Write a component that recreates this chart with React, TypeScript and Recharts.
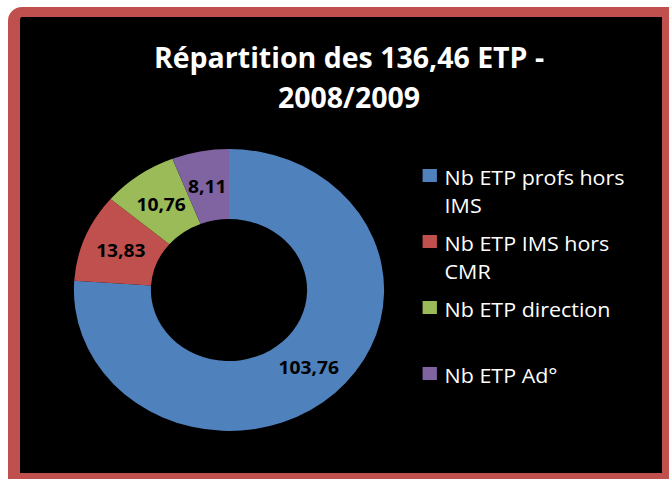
import { PieChart, Pie, Cell, Legend } from 'recharts';

const categories = ['Nb ETP profs hors IMS', 'Nb ETP IMS hors CMR', 'Nb ETP direction', 'Nb ETP Ad°'];
const values = [103.76, 13.83, 10.76, 8.11];
const colors = ['#4F81BD', '#C0504D', '#9BBB59', '#8064A2'];
const titleLines = ['Répartition des 136,46 ETP -', '2008/2009'];

const data = categories.map((name, i) => ({ name, value: values[i] }));

const fmt = (v: number) => v.toFixed(2).replace('.', ',');

const RAD = Math.PI / 180;

function renderLabel(props: any) {
  const { cx, cy, midAngle, innerRadius, outerRadius, value } = props;
  const r = (innerRadius + outerRadius) / 2;
  const x = cx + r * Math.cos(-midAngle * RAD);
  const y = cy + r * Math.sin(-midAngle * RAD);
  return (
    <text
      x={x}
      y={y}
      textAnchor="middle"
      dominantBaseline="central"
      fill="#000"
      fontSize={17.5}
      fontWeight={700}
      fontFamily="'Open Sans', sans-serif"
    >
      {fmt(value)}
    </text>
  );
}

function LegendContent({ payload }: any) {
  // keep the legend in data order
  const items = [...(payload || [])].sort(
    (a: any, b: any) => categories.indexOf(a.value) - categories.indexOf(b.value)
  );
  return (
    <div style={{ fontFamily: "'Open Sans', sans-serif" }}>
      {items.map((entry: any, i: number) => (
        <div key={`leg-${i}`} style={{ position: 'relative', height: 66 }}>
          <div
            style={{
              position: 'absolute',
              left: 0,
              top: 5,
              width: 13,
              height: 13,
              background: entry.color,
            }}
          />
          <div
            style={{
              position: 'absolute',
              left: 20,
              top: 0,
              width: 185,
              color: '#fff',
              fontSize: 19.5,
              lineHeight: '28px',
            }}
          >
            {entry.value}
          </div>
        </div>
      ))}
    </div>
  );
}

export default function App() {
  return (
    <div
      style={{
        position: 'absolute',
        left: 8,
        top: 7,
        width: 661,
        height: 472,
        boxSizing: 'border-box',
        background: '#000',
        borderStyle: 'solid',
        borderColor: '#C0504D',
        borderWidth: '10px 7px 6px 12px',
        borderRadius: '14px 0 0 0',
        overflow: 'hidden',
      }}
    >
      <div
        style={{
          position: 'absolute',
          left: 8,
          top: 20,
          width: 642,
          textAlign: 'center',
          color: '#fff',
          fontFamily: "'Open Sans', sans-serif",
          fontWeight: 700,
          fontSize: 28.5,
          lineHeight: '40px',
        }}
      >
        {titleLines[0]}
        <br />
        {titleLines[1]}
      </div>
      <div
        style={{
          position: 'absolute',
          left: 0,
          top: 0,
          width: 584,
          height: 456,
          transform: 'scaleX(1.1)',
          transformOrigin: '0 0',
        }}
      >
        <PieChart width={584} height={456} margin={{ top: 0, right: 0, bottom: 0, left: 0 }}>
          <Pie
            data={data}
            dataKey="value"
            nameKey="name"
            cx={190}
            cy={273}
            innerRadius={71}
            outerRadius={141}
            startAngle={90}
            endAngle={-270}
            stroke="none"
            label={renderLabel}
            labelLine={false}
            isAnimationActive={false}
          >
            {data.map((_, i) => (
              <Cell key={`cell-${i}`} fill={colors[i]} />
            ))}
          </Pie>
          <Legend
            layout="vertical"
            align="right"
            verticalAlign="top"
            content={<LegendContent />}
            wrapperStyle={{ left: 366, top: 147, width: 215 }}
          />
        </PieChart>
      </div>
    </div>
  );
}
